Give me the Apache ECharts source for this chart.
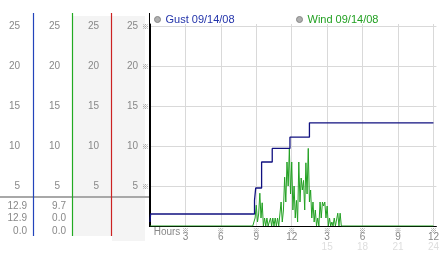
<!DOCTYPE html>
<html><head><meta charset="utf-8">
<script src="https://cdn.jsdelivr.net/npm/echarts@6/dist/echarts.min.js"></script>
<style>html,body{margin:0;padding:0;background:#fff;}#c{width:442px;height:253px;}</style>
</head><body><div id="c"></div>
<script>
const gustName = 'Gust 09/14/08';
const windName = 'Wind 09/14/08';
// gust: [hour, value] held until next time (step)
const gustTimes  = [0,   0.05, 8.85, 8.95, 9.45, 10.35, 11.85, 13.5, 24];
const gustValues = [0.5, 1.5,  3.2,  4.75, 8,    9.7,   11.1,  12.9, 12.9];
// wind: samples every 0.1 h starting at 8.7 h; zero before and after
const windStart = 8.7, windStep = 0.1;
const windValues = [0,0,1,2.6,0.5,1.5,4.1,1,2.9,0,
                    1,0,1,0,0,1,0,1,0,1,
                    0,1,0,1.5,3,0.5,2,6.1,3,8,
                    5,9.7,4,8,2,5,1,3.2,0.5,8,
                    3,6,4.5,5.7,2,7.9,4,9.7,3,4.5,
                    1,3,0.5,2,0,1,0,3,1,3,
                    2.5,3,1,2.5,0,1,0,0.5,0,1,
                    0,0,1.6,0,1.6,0];
const yTicks = [5,10,15,20,25];
const xTickHours = [3,6,9,12,15,18,21,24];
const xTickLabels = ['3','6','9','12','3','6','9','12'];
const xTickLabels24 = ['','','','','15','18','21','24'];
const gustStats = ['12.9','12.9','0.0'];
const windStats = ['9.7','0.0','0.0'];

const FONT = 'Liberation Sans';
const gustData = gustTimes.map((t,i)=>[t, gustValues[i]]);
const windData = [[0,0]].concat(windValues.map((v,i)=>[+(windStart+i*windStep).toFixed(2), v]), [[24,0]]);

function yLab(v){ return yTicks.indexOf(v) >= 0 ? String(v) : ''; }
function mkY(offset, withMark){
  return {
    type:'value', gridIndex:0, position:'left', offset: offset, min:0, max:25.25, interval:5,
    axisLine:{show: offset===0, lineStyle:{color:'#000', width:1}},
    axisTick:{show:false},
    splitLine:{show: offset===0, showMaxLine:false, lineStyle:{color:'#d9d9d9'}},
    axisLabel:{
      margin: withMark ? 1 : 0,
      formatter: withMark ? (v)=> yLab(v) ? '{v|'+yLab(v)+'}{m|※}' : '' : yLab,
      color:'#888', fontFamily: FONT, fontSize:10,
      rich: withMark ? {v:{color:'#888', fontFamily:FONT, fontSize:10, padding:[0,4,0,0]}, m:{color:'#888', fontSize:7, fontFamily:'Noto Sans CJK JP'}} : undefined
    },
    z: 3
  };
}

const chart = echarts.init(document.getElementById('c'), null, {renderer:'canvas'});
const option = {
  animation:false,
  backgroundColor:'#fff',
  grid:{left:150, right:1, top:24, bottom:27, containLabel:false},
  legend:[
    {left:154, top:14, padding:0, itemWidth:6, itemHeight:6, icon:'circle', selectedMode:false,
     data:[{name:gustName, itemStyle:{color:'#b0b0b0', borderColor:'#888', borderWidth:1}, textStyle:{color:'#2233aa'}}],
     textStyle:{fontFamily:FONT, fontSize:11}},
    {left:296, top:14, padding:0, itemWidth:6, itemHeight:6, icon:'circle', selectedMode:false,
     data:[{name:windName, itemStyle:{color:'#b0b0b0', borderColor:'#888', borderWidth:1}, textStyle:{color:'#22a022'}}],
     textStyle:{fontFamily:FONT, fontSize:11}}
  ],
  xAxis:{
    type:'value', min:0, max:24.25, interval:3,
    axisLine:{show:true, onZero:false, lineStyle:{color:'#000', width:1}},
    axisTick:{show:false},
    splitLine:{show:true, showMaxLine:false, lineStyle:{color:'#d9d9d9'}},
    axisLabel:{
      margin:1, showMaxLabel:true,
      formatter:(v)=>{
        if (v === 0) return '{h|Hours}';
        const i = xTickHours.indexOf(v);
        if (i < 0) return '';
        return '{m|※}\n{v|'+xTickLabels[i]+'}\n{w|'+(xTickLabels24[i]||' ')+'}';
      },
      rich:{
        h:{color:'#888', fontFamily:FONT, fontSize:10, lineHeight:10, padding:[0,0,0,34]},
        m:{color:'#888', fontSize:7, lineHeight:6, fontFamily:'Noto Sans CJK JP'},
        v:{color:'#888', fontFamily:FONT, fontSize:10, lineHeight:9},
        w:{color:'#dedede', fontFamily:FONT, fontSize:10, lineHeight:10}
      }
    },
    z:3
  },
  yAxis:[ mkY(0,true), mkY(51,false), mkY(90,false), mkY(130,false) ],
  graphic:[
    {type:'rect', shape:{x:73, y:16, width:38, height:220}, style:{fill:'#f4f4f4'}},
    {type:'rect', shape:{x:112, y:16, width:33, height:225}, style:{fill:'#f4f4f4'}},
    {type:'line', shape:{x1:0, y1:197, x2:149, y2:197}, style:{stroke:'#a8a8a8', lineWidth:2}},
    {type:'line', shape:{x1:33.5, y1:13, x2:33.5, y2:236}, style:{stroke:'#2244bb', lineWidth:1.2}},
    {type:'line', shape:{x1:72.5, y1:13, x2:72.5, y2:236}, style:{stroke:'#22aa22', lineWidth:1.2}},
    {type:'line', shape:{x1:111.5, y1:13, x2:111.5, y2:236}, style:{stroke:'#cc2222', lineWidth:1.2}},
    {type:'line', shape:{x1:149.5, y1:13, x2:149.5, y2:227}, style:{stroke:'#000', lineWidth:1}}
  ].concat(
    gustStats.map((s,i)=>({type:'text', style:{text:s, x:27, y:206+i*12.5, align:'right', verticalAlign:'middle', fill:'#888', font:'10px "Liberation Sans"'}})),
    windStats.map((s,i)=>({type:'text', style:{text:s, x:66, y:206+i*12.5, align:'right', verticalAlign:'middle', fill:'#888', font:'10px "Liberation Sans"'}}))
  ),
  series:[
    {name:windName, type:'line', data:windData, showSymbol:false, symbol:'none',
     lineStyle:{color:'#22a022', width:1}, itemStyle:{color:'#22a022'}, z:4},
    {name:gustName, type:'line', data:gustData, step:'end', showSymbol:false, symbol:'none',
     lineStyle:{color:'#101080', width:1.3}, itemStyle:{color:'#101080'}, z:5}
  ]
};
chart.setOption(option);
</script>
</body></html>
